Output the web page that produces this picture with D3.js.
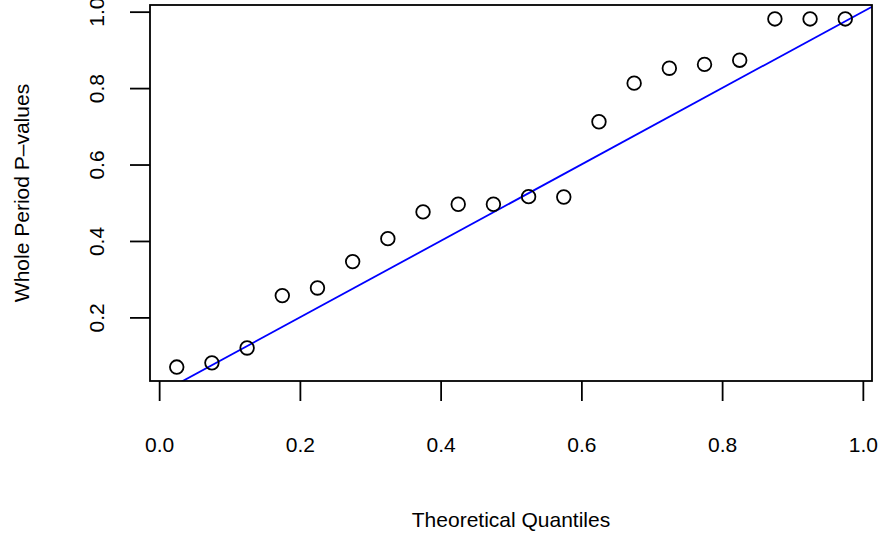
<!DOCTYPE html>
<html>
<head>
<meta charset="utf-8">
<script src="https://cdn.jsdelivr.net/npm/d3@7"></script>
<style>
    body { margin: 0; background: #ffffff; }
    text { font-family: "Liberation Sans", Arial, Helvetica, sans-serif; fill: #000000; }
</style>
</head>
<body>
<div id="QQContainer"></div>
<script>
// theoretical uniform quantiles and sorted p-values
const quantiles = [0.025, 0.075, 0.125, 0.175, 0.225, 0.275, 0.325, 0.375, 0.425, 0.475,
    0.525, 0.575, 0.625, 0.675, 0.725, 0.775, 0.825, 0.875, 0.925, 0.975];
const pValues = [0.070, 0.081, 0.120, 0.257, 0.277, 0.346, 0.406, 0.476, 0.496, 0.496,
    0.516, 0.515, 0.712, 0.813, 0.852, 0.862, 0.873, 0.981, 0.981, 0.981];
const xTicks = [0, 0.2, 0.4, 0.6, 0.8, 1.0];
const yTicks = [0.2, 0.4, 0.6, 0.8, 1.0];
const xLabel = "Theoretical Quantiles";
const yLabel = "Whole Period P\u2013values";

const width = 879;
const height = 533;
const margin = {left: 150, right: 7, top: 5, bottom: 152};
const tickLength = 20;
const fontSize = 21;

// R style: extend the data range by 4% on each side
function rRange(values) {
    let ext = d3.extent(values);
    let pad = (ext[1] - ext[0]) * 0.04;
    return [ext[0] - pad, ext[1] + pad];
}

const svg = d3.select("#QQContainer")
    .append("svg")
    .attr("width", width)
    .attr("height", height);

const x = d3.scaleLinear()
    .domain(rRange(quantiles))
    .range([margin.left, width - margin.right]);
const y = d3.scaleLinear()
    .domain(rRange(pValues))
    .range([height - margin.bottom, margin.top]);

const plotBottom = height - margin.bottom;

svg.append("clipPath")
    .attr("id", "plotClip")
    .append("rect")
    .attr("x", margin.left)
    .attr("y", margin.top)
    .attr("width", width - margin.left - margin.right)
    .attr("height", plotBottom - margin.top);

// bottom axis
const xAxis = svg.append("g")
    .attr("transform", `translate(0,${plotBottom})`)
    .call(d3.axisBottom(x).tickValues(xTicks).tickFormat(d3.format(".1f"))
        .tickSize(tickLength).tickSizeOuter(0));
xAxis.select(".domain").remove();
xAxis.selectAll("line").attr("stroke", "#000").attr("stroke-width", 1.8);
xAxis.selectAll("text")
    .attr("y", 71 - 0.71 * fontSize)
    .attr("dy", "0.71em")
    .style("font-size", fontSize + "px")
    .style("font-family", null);

// left axis, labels rotated like R (las = 0)
const yAxis = svg.append("g")
    .attr("transform", `translate(${margin.left},0)`)
    .call(d3.axisLeft(y).tickValues(yTicks).tickFormat(d3.format(".1f"))
        .tickSize(tickLength).tickSizeOuter(0));
yAxis.select(".domain").remove();
yAxis.selectAll("line").attr("stroke", "#000").attr("stroke-width", 1.8);
yAxis.selectAll("text")
    .attr("x", null)
    .attr("dy", null)
    .attr("text-anchor", "middle")
    .attr("transform", "translate(-46.5,0) rotate(-90)")
    .style("font-size", fontSize + "px")
    .style("font-family", null);

// reference line y = x
svg.append("line")
    .attr("clip-path", "url(#plotClip)")
    .attr("x1", x(x.domain()[0]))
    .attr("y1", y(x.domain()[0]))
    .attr("x2", x(x.domain()[1]))
    .attr("y2", y(x.domain()[1]))
    .style("stroke", "#0000ff")
    .style("stroke-width", 1.8);

// points
svg.append("g")
    .selectAll("circle")
    .data(quantiles)
    .enter()
    .append("circle")
    .attr("cx", d => x(d))
    .attr("cy", (d, i) => y(pValues[i]))
    .attr("r", 6.8)
    .attr("fill", "none")
    .attr("stroke", "#000")
    .attr("stroke-width", 1.8);

// box
svg.append("rect")
    .attr("x", margin.left)
    .attr("y", margin.top)
    .attr("width", width - margin.left - margin.right)
    .attr("height", plotBottom - margin.top)
    .attr("fill", "none")
    .attr("stroke", "#000")
    .attr("stroke-width", 1.8);

// axis titles
svg.append("text")
    .attr("x", (margin.left + width - margin.right) / 2)
    .attr("y", 527)
    .attr("text-anchor", "middle")
    .style("font-size", fontSize + "px")
    .text(xLabel);

svg.append("text")
    .attr("transform", `translate(29,${(margin.top + plotBottom) / 2}) rotate(-90)`)
    .attr("text-anchor", "middle")
    .style("font-size", fontSize + "px")
    .text(yLabel);
</script>
</body>
</html>
